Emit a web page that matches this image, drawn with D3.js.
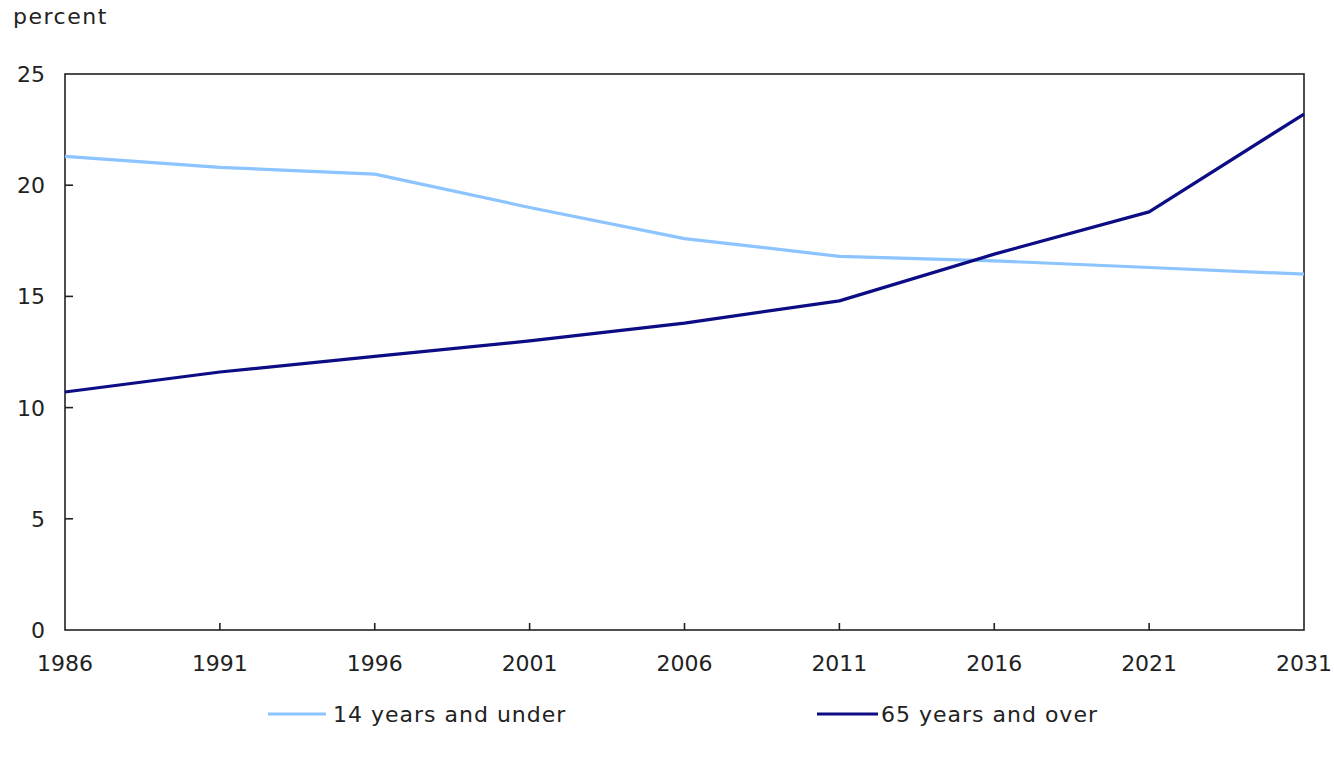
<!DOCTYPE html>
<html><head><meta charset="utf-8">
<script src="https://cdn.jsdelivr.net/npm/d3@7"></script>
<style>body{margin:0;background:#fff;} text{font-family:"DejaVu Sans",Verdana,sans-serif;fill:#222;}</style>
</head><body><svg id="c" width="1334" height="759"></svg>
<script>
const years = ["1986","1991","1996","2001","2006","2011","2016","2021","2031"];
const under14 = [21.3, 20.8, 20.5, 19.0, 17.6, 16.8, 16.6, 16.3, 16.0];
const over65 = [10.7, 11.6, 12.3, 13.0, 13.8, 14.8, 16.9, 18.8, 23.2];
const yTicks = [0, 5, 10, 15, 20, 25];
const seriesNames = ["14 years and under", "65 years and over"];
const colors = ["#8cc4ff", "#0c0c85"];

const svg = d3.select("#c");
const L = 65, R = 1304, T = 74, B = 630;
const fs = 22;
const x = d3.scalePoint().domain(years).range([L, R]);
const y = d3.scaleLinear().domain([0, 25]).range([B, T]);

// frame
svg.append("rect").attr("x", L).attr("y", T).attr("width", R - L).attr("height", B - T)
  .attr("fill", "none").attr("stroke", "#222").attr("stroke-width", 1.6);

// y ticks
const gy = svg.append("g");
yTicks.forEach(v => {
  if (v > 0 && v < 25) gy.append("line").attr("x1", L).attr("x2", L + 8).attr("y1", y(v)).attr("y2", y(v)).attr("stroke", "#222").attr("stroke-width", 1.6);
  gy.append("text").attr("x", 45).attr("y", y(v)).attr("dy", "0.36em").attr("text-anchor", "end").attr("font-size", fs).text(v);
});
// x ticks
const gx = svg.append("g");
years.forEach((yr, i) => {
  if (i > 0 && i < years.length - 1) gx.append("line").attr("x1", x(yr)).attr("x2", x(yr)).attr("y1", B).attr("y2", B - 7).attr("stroke", "#222").attr("stroke-width", 1.6);
  gx.append("text").attr("x", x(yr)).attr("y", 671).attr("text-anchor", "middle").attr("font-size", fs).text(yr);
});

svg.append("text").attr("x", 13).attr("y", 24).attr("font-size", fs).attr("letter-spacing", 1.5).text("percent");

const line = d3.line().x((d, i) => x(years[i])).y(d => y(d));
[under14, over65].forEach((s, k) => {
  svg.append("path").datum(s).attr("d", line).attr("fill", "none")
    .attr("stroke", colors[k]).attr("stroke-width", 3.2).attr("stroke-linejoin", "round");
});

// legend
const leg = [{x1: 268, x2: 326, tx: 333}, {x1: 817, x2: 878, tx: 881}];
seriesNames.forEach((n, k) => {
  svg.append("line").attr("x1", leg[k].x1).attr("x2", leg[k].x2).attr("y1", 714).attr("y2", 714)
    .attr("stroke", colors[k]).attr("stroke-width", 3.2);
  svg.append("text").attr("x", leg[k].tx).attr("y", 714).attr("dy", "0.36em").attr("font-size", fs).attr("letter-spacing", 1).text(n);
});
</script></body></html>
